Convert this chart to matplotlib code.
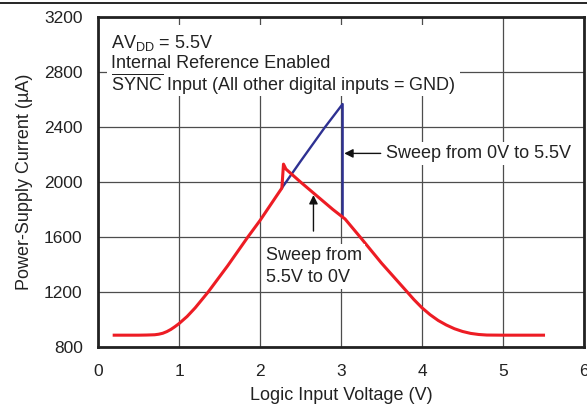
import matplotlib
matplotlib.use("Agg")
import matplotlib.pyplot as plt
from matplotlib.lines import Line2D
from matplotlib.patches import Rectangle

plt.rcParams['font.family'] = ['Liberation Sans', 'DejaVu Sans']
plt.rcParams['mathtext.fontset'] = 'custom'
plt.rcParams['mathtext.rm'] = 'Liberation Sans'
plt.rcParams['mathtext.it'] = 'Liberation Sans'

# Sweep from 5.5V to 0V (red)
red_v = [0.2, 0.5, 0.6, 0.7, 0.75, 0.8, 0.85, 0.9, 0.95, 1.0, 1.1, 1.2, 1.36, 1.6,
         1.85, 2.0, 2.2, 2.27, 2.29, 2.32, 2.5, 2.7, 2.9, 3.05, 3.25, 3.5, 3.81,
         3.9, 4.0, 4.1, 4.2, 4.3, 4.4, 4.5, 4.6, 4.7, 4.8, 5.0, 5.5]
red_i = [886, 886, 887, 889, 893, 900, 912, 928, 948, 970, 1022, 1085, 1200, 1390,
         1600, 1720, 1895, 1956, 2130, 2094, 2000, 1900, 1800, 1731, 1590, 1410, 1205,
         1145, 1085, 1035, 993, 960, 933, 913, 899, 891, 887, 886, 886]

# Sweep from 0V to 5.5V (blue, only where it differs)
blue_v = [2.27, 2.5, 2.8, 3.02, 3.02]
blue_i = [1956, 2150, 2397, 2567, 1745]

x_ticks = [0, 1, 2, 3, 4, 5, 6]
y_ticks = [800, 1200, 1600, 2000, 2400, 2800, 3200]

RED = '#ED1C24'
BLUE = '#2E3192'
TXT = '#222222'
FS = 13

fig = plt.figure(figsize=(5.87, 4.09), dpi=100)
ax = fig.add_axes([98/587, 1-347/409, 486/587, 330/409])

ax.set_xlim(0, 6)
ax.set_ylim(800, 3200)
ax.set_xticks(x_ticks)
ax.set_yticks(y_ticks)
ax.grid(True, color='#4d4d4d', linewidth=0.9)
ax.set_axisbelow(True)
for s in ax.spines.values():
    s.set_linewidth(2.0)
    s.set_color('#222222')
ax.tick_params(axis='both', length=0, labelsize=12.5, colors=TXT)
ax.tick_params(axis='x', pad=12)
ax.tick_params(axis='y', pad=11)

ax.plot(blue_v, blue_i, color=BLUE, linewidth=1.7, zorder=3)
ax.plot(red_v, red_i, color=RED, linewidth=2.2, zorder=4, solid_joinstyle='round')

ax.set_xlabel('Logic Input Voltage (V)', fontsize=FS, color=TXT, labelpad=6)
ax.set_ylabel('Power-Supply Current (µA)', fontsize=FS, color=TXT, labelpad=8)

# white box behind the condition text
ax.add_patch(Rectangle((0.11, 2625), 4.36, 516, facecolor='white', edgecolor='none',
                       zorder=2.5))
ax.text(0.157, 3010, 'AV$_{\\mathrm{DD}}$ = 5.5V', fontsize=FS, color=TXT,
        va='center', ha='left', zorder=5)
ax.text(0.157, 2865, 'Internal Reference Enabled', fontsize=FS, color=TXT,
        va='center', ha='left', zorder=5)
ax.text(0.157, 2708, '$\\overline{\\mathrm{SYNC}}$ Input (All other digital inputs = GND)',
        fontsize=FS, color=TXT, va='center', ha='left', zorder=5)

ax.text(3.56, 2208, 'Sweep from 0V to 5.5V', fontsize=FS, color=TXT,
        va='center', ha='left',
        bbox=dict(facecolor='white', edgecolor='none', pad=2), zorder=5)
ax.annotate('', xy=(3.04, 2208), xytext=(3.49, 2208),
            arrowprops=dict(arrowstyle='-|>', color='#111111', lw=1.0,
                            mutation_scale=13, shrinkA=0, shrinkB=0), zorder=6)

ax.text(2.08, 1466, 'Sweep from', fontsize=FS, color=TXT, va='center', ha='left',
        bbox=dict(facecolor='white', edgecolor='none', pad=2), zorder=5)
ax.text(2.08, 1306, '5.5V to 0V', fontsize=FS, color=TXT, va='center', ha='left',
        bbox=dict(facecolor='white', edgecolor='none', pad=2), zorder=5)
ax.annotate('', xy=(2.66, 1905), xytext=(2.66, 1643),
            arrowprops=dict(arrowstyle='-|>', color='#111111', lw=1.0,
                            mutation_scale=13, shrinkA=0, shrinkB=0), zorder=6)

fig.add_artist(Line2D([0, 1], [1-3/409, 1-3/409], color='black', linewidth=1.2,
                      transform=fig.transFigure))

fig.savefig('out.png', dpi=100)
